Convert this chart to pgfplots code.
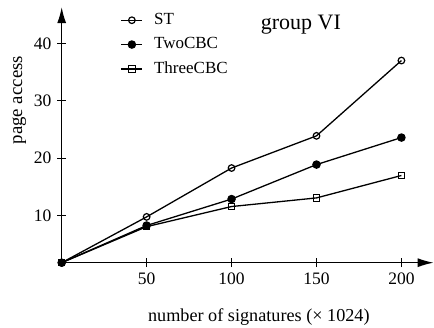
\documentclass[border=0pt]{standalone}
\usepackage{fontspec}
\setmainfont{Liberation Serif}
\usepackage{pgfplots}
\pgfplotsset{compat=1.18}
\usetikzlibrary{arrows.meta}
\begin{document}
\fontsize{17}{20}\selectfont
\begin{tikzpicture}
\begin{axis}[
  at={(0,0)}, anchor=south west,
  scale only axis, width=372pt, height=255.6pt,
  xmin=0, xmax=219, ymin=1.83, ymax=46.3,
  axis lines=left,
  axis line style={line width=1.4pt, -{Latex[length=16pt,width=9pt]}},
  xtick={50,100,150,200}, ytick={10,20,30,40},
  tick align=center, major tick length=9pt,
  tick style={line width=1pt, black},
  tick label style={font=\fontsize{17.5}{20}\selectfont},
  /pgf/number format/assume math mode=true,
  xlabel={number of signatures (× 1024)},
  ylabel={page access},
  xlabel style={at={(axis description cs:0.530,-0.211)}, anchor=center, font=\fontsize{18.2}{20}\selectfont},
  ylabel style={at={(axis description cs:-0.114,0.636)}, anchor=center, rotate=0, font=\fontsize{18.8}{20}\selectfont},
  legend style={draw=none, fill=none, at={(rel axis cs:0.150,0.992)}, anchor=north west,
    font=\fontsize{17}{20}\selectfont, row sep=6.5pt, cells={anchor=west}},
  legend image code/.code={\draw[mark repeat=2,mark phase=2] plot coordinates {(0cm,0cm)(0.37cm,0cm)(0.74cm,0cm)};
    \path (0.74cm+9pt,0);},
  clip=false,
]
\addplot[black, line width=1.3pt, mark=o, mark size=3.3pt, mark options={fill=white, line width=1.2pt}]
  coordinates {(0,1.83) (50,9.8) (100,18.3) (150,23.9) (200,37.0)};
\addlegendentry{ST}
\addplot[black, line width=1.3pt, mark=*, mark size=3.6pt, mark options={fill=black}]
  coordinates {(0,1.83) (50,8.3) (100,12.9) (150,18.9) (200,23.6)};
\addlegendentry{TwoCBC}
\addplot[black, line width=1.3pt, mark=square, mark size=3.2pt, mark options={fill=white, line width=1.1pt}]
  coordinates {(0,1.83) (50,8.1) (100,11.6) (150,13.1) (200,17.0)};
\addlegendentry{ThreeCBC}
\node[font=\fontsize{22}{26}\selectfont] at (rel axis cs:0.643,0.93) {group VI};
\end{axis}
\pgfresetboundingbox
\path[use as bounding box] (-61.7pt,-65.3pt) rectangle (372.3pt,262.7pt);
\end{tikzpicture}
\end{document}
